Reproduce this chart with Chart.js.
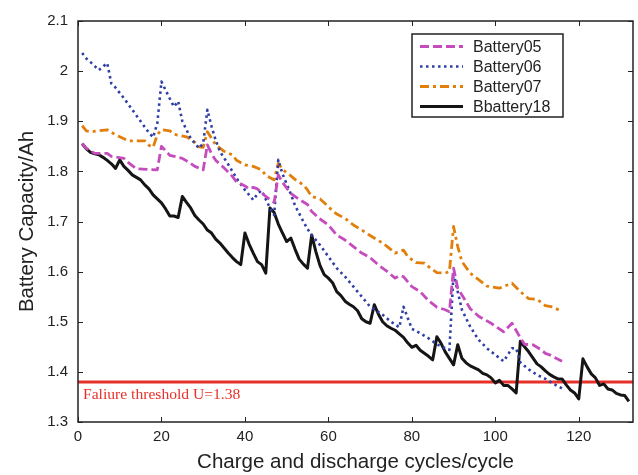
<!DOCTYPE html>
<html>
<head>
<meta charset="utf-8">
<script src="https://cdn.jsdelivr.net/npm/chart.js@4.4.1/dist/chart.umd.min.js"></script>
<style>
  body { margin: 0; background: #fff; }
</style>
</head>
<body>
<canvas id="capacityChart" width="638" height="475"></canvas>
<script>
// capacity (Ah) against cycle number, [cycle, capacity]
const battery05 = [
    [1,1.856],[2,1.846],[4,1.836],[7,1.836],[8,1.83],[11,1.826],[12,1.818],[14,1.805],[19,1.803],
    [20,1.85],[22,1.832],[25,1.826],[27,1.816],[28,1.81],[30,1.803],[31,1.853],[32,1.835],[33,1.822],
    [35,1.807],[37,1.79],[38,1.779],[40,1.771],[41,1.765],[42,1.768],[43,1.765],[45,1.75],[47,1.738],
    [48,1.793],[49,1.778],[51,1.756],[53,1.744],[55,1.734],[56,1.72],[58,1.705],[60,1.693],[62,1.673],
    [64,1.663],[66,1.65],[68,1.637],[70,1.628],[72,1.613],[74,1.601],[76,1.587],[77,1.592],[78,1.59],
    [80,1.57],[82,1.56],[84,1.542],[86,1.529],[88,1.524],[89,1.52],[90,1.607],[91,1.567],[93,1.54],
    [94,1.526],[96,1.511],[99,1.497],[102,1.48],[104,1.497],[106,1.468],[107,1.455],[109,1.454],
    [111,1.444],[112,1.437],[113,1.434],[116,1.421]
];
const battery06 = [
    [1,2.036],[2,2.025],[3,2.018],[4,2.01],[5,2.002],[6,2.009],[7,2.016],[8,1.975],[9,1.967],[11,1.946],
    [13,1.923],[15,1.9],[17,1.877],[18,1.868],[19,1.896],[20,1.979],[21,1.962],[22,1.945],[23,1.929],
    [24,1.94],[25,1.9],[27,1.866],[29,1.846],[30,1.856],[31,1.923],[32,1.89],[33,1.862],[34,1.84],
    [36,1.814],[38,1.786],[40,1.763],[42,1.743],[43,1.755],[44,1.762],[46,1.727],[47,1.713],[48,1.823],
    [49,1.795],[51,1.755],[52,1.732],[54,1.7],[55,1.685],[56,1.673],[58,1.653],[60,1.63],[62,1.607],
    [64,1.59],[66,1.57],[68,1.55],[70,1.53],[71,1.525],[73,1.514],[75,1.5],[77,1.489],[78,1.53],
    [79,1.508],[80,1.486],[82,1.477],[84,1.467],[86,1.455],[88,1.447],[89,1.444],[90,1.597],[91,1.56],
    [92,1.524],[94,1.49],[96,1.464],[98,1.447],[100,1.434],[102,1.421],[104,1.447],[105,1.447],
    [106,1.419],[108,1.405],[110,1.394],[112,1.386],[114,1.376],[116,1.367]
];
const battery07 = [
    [1,1.891],[2,1.881],[3,1.879],[5,1.881],[7,1.883],[9,1.873],[10,1.869],[12,1.861],[16,1.861],
    [17,1.852],[18,1.848],[19,1.873],[20,1.883],[22,1.881],[23,1.874],[26,1.869],[28,1.858],[29,1.849],
    [30,1.848],[31,1.879],[32,1.866],[33,1.853],[35,1.84],[37,1.833],[38,1.822],[40,1.813],[42,1.81],
    [44,1.803],[45,1.792],[47,1.783],[48,1.816],[49,1.804],[51,1.791],[52,1.784],[54,1.773],[55,1.763],
    [56,1.75],[58,1.745],[60,1.73],[61,1.721],[62,1.715],[64,1.706],[66,1.693],[68,1.683],[70,1.672],
    [72,1.662],[73,1.657],[75,1.644],[76,1.637],[78,1.643],[79,1.63],[81,1.618],[83,1.617],[84,1.61],
    [86,1.598],[88,1.597],[89,1.6],[90,1.69],[91,1.65],[92,1.62],[94,1.597],[96,1.584],[98,1.571],
    [101,1.567],[104,1.577],[106,1.56],[108,1.546],[110,1.545],[112,1.532],[114,1.529],[116,1.52]
];
const battery18 = [
    [1,1.855],[2,1.845],[3,1.838],[4,1.835],[5,1.833],[6,1.828],[7,1.822],[8,1.815],[9,1.806],[10,1.823],
    [11,1.81],[12,1.802],[13,1.793],[14,1.788],[15,1.783],[16,1.773],[17,1.765],[18,1.753],[19,1.745],
    [20,1.737],[21,1.725],[22,1.711],[23,1.711],[24,1.708],[25,1.75],[26,1.738],[27,1.727],[28,1.712],
    [29,1.703],[30,1.695],[31,1.683],[32,1.677],[33,1.665],[34,1.657],[35,1.647],[36,1.637],[37,1.628],
    [38,1.62],[39,1.614],[40,1.677],[41,1.655],[42,1.637],[43,1.62],[44,1.614],[45,1.597],[46,1.727],
    [47,1.718],[48,1.695],[49,1.677],[50,1.66],[51,1.667],[52,1.645],[53,1.625],[54,1.615],[55,1.607],
    [56,1.673],[57,1.64],[58,1.612],[59,1.594],[60,1.587],[61,1.578],[62,1.56],[63,1.552],[64,1.541],
    [65,1.535],[66,1.53],[67,1.522],[68,1.506],[69,1.5],[70,1.497],[71,1.534],[72,1.515],[73,1.5],
    [74,1.492],[75,1.487],[76,1.483],[77,1.476],[78,1.469],[79,1.458],[80,1.449],[81,1.453],[82,1.443],
    [83,1.437],[84,1.431],[85,1.424],[86,1.47],[87,1.457],[88,1.44],[89,1.427],[90,1.414],[91,1.454],
    [92,1.427],[93,1.418],[94,1.412],[95,1.408],[96,1.404],[97,1.397],[98,1.394],[99,1.388],[100,1.378],
    [101,1.383],[102,1.373],[103,1.373],[104,1.366],[105,1.358],[106,1.461],[107,1.45],[108,1.44],
    [109,1.428],[110,1.416],[111,1.41],[112,1.402],[113,1.395],[114,1.39],[115,1.386],[116,1.386],
    [117,1.374],[118,1.364],[119,1.358],[120,1.346],[121,1.426],[122,1.41],[123,1.396],[124,1.388],
    [125,1.373],[126,1.376],[127,1.366],[128,1.364],[129,1.357],[130,1.354],[131,1.353],[132,1.341]
];
const seriesNames = ['Battery05', 'Battery06', 'Battery07', 'Bbattery18'];
const threshold = 1.38;
const thresholdLabel = 'Faliure threshold U=1.38';

const toPoints = arr => arr.map(p => ({ x: p[0], y: p[1] }));
const sans = 'Liberation Sans, Arial, sans-serif';

// box around the plot with inward ticks
const frameTicks = {
    id: 'frameTicks',
    afterDraw(chart) {
        const { ctx, chartArea: a, scales: { x, y } } = chart;
        ctx.save();
        ctx.strokeStyle = '#222';
        ctx.lineWidth = 1.5;
        ctx.strokeRect(a.left, a.top, a.right - a.left, a.bottom - a.top);
        ctx.lineWidth = 1;
        ctx.beginPath();
        x.ticks.forEach(t => {
            const px = Math.round(x.getPixelForValue(t.value)) + 0.5;
            ctx.moveTo(px, a.bottom); ctx.lineTo(px, a.bottom - 5);
            ctx.moveTo(px, a.top); ctx.lineTo(px, a.top + 5);
        });
        y.ticks.forEach(t => {
            const py = Math.round(y.getPixelForValue(t.value)) + 0.5;
            ctx.moveTo(a.left, py); ctx.lineTo(a.left + 5, py);
            ctx.moveTo(a.right, py); ctx.lineTo(a.right - 5, py);
        });
        ctx.stroke();
        ctx.restore();
    }
};

// failure threshold line with its note
const thresholdLine = {
    id: 'thresholdLine',
    beforeDatasetsDraw(chart) {
        const { ctx, chartArea: a, scales: { y } } = chart;
        const py = y.getPixelForValue(threshold);
        ctx.save();
        ctx.strokeStyle = '#e8302a';
        ctx.lineWidth = 3;
        ctx.beginPath();
        ctx.moveTo(a.left, py);
        ctx.lineTo(a.right, py);
        ctx.stroke();
        ctx.fillStyle = '#e8302a';
        ctx.font = '15.6px "Liberation Serif", "Times New Roman", serif';
        ctx.textBaseline = 'middle';
        ctx.fillText(thresholdLabel, a.left + 5, py + 13);
        ctx.restore();
    }
};

// boxed legend in the upper right of the plot
const boxLegend = {
    id: 'boxLegend',
    afterDraw(chart) {
        const { ctx, chartArea: a } = chart;
        const left = a.left + 334, top = a.top + 13, w = 151, h = 83;
        ctx.save();
        ctx.fillStyle = '#fff';
        ctx.fillRect(left, top, w, h);
        ctx.strokeStyle = '#222';
        ctx.lineWidth = 1.5;
        ctx.strokeRect(left, top, w, h);
        ctx.font = '16px ' + sans;
        ctx.textBaseline = 'middle';
        chart.data.datasets.forEach((ds, i) => {
            const cy = top + 12.5 + i * 20;
            ctx.strokeStyle = ds.borderColor;
            ctx.lineWidth = ds.borderWidth;
            ctx.setLineDash(ds.borderDash || []);
            ctx.beginPath();
            ctx.moveTo(left + 8, cy);
            ctx.lineTo(left + 51, cy);
            ctx.stroke();
            ctx.setLineDash([]);
            ctx.fillStyle = '#222';
            ctx.fillText(ds.label, left + 61, cy + 1);
        });
        ctx.restore();
    }
};

const ctx = document.getElementById('capacityChart').getContext('2d');
const capacityChart = new Chart(ctx, {
    type: 'line',
    data: {
        datasets: [{
            label: seriesNames[0],
            data: toPoints(battery05),
            borderColor: '#c54cbd',
            borderWidth: 2.8,
            borderDash: [9, 4]
        }, {
            label: seriesNames[1],
            data: toPoints(battery06),
            borderColor: '#2f3fa6',
            borderWidth: 2.6,
            borderDash: [2.5, 3.5]
        }, {
            label: seriesNames[2],
            data: toPoints(battery07),
            borderColor: '#e27f0b',
            borderWidth: 2.8,
            borderDash: [9, 4, 3, 4]
        }, {
            label: seriesNames[3],
            data: toPoints(battery18),
            borderColor: '#151515',
            borderWidth: 3
        }]
    },
    options: {
        responsive: false,
        animation: false,
        devicePixelRatio: 1,
        layout: { padding: { top: 21, right: 5, left: 0, bottom: 0 } },
        elements: {
            point: { radius: 0 },
            line: { tension: 0, borderCapStyle: 'butt', borderJoinStyle: 'round' }
        },
        plugins: {
            legend: { display: false },
            tooltip: { enabled: false }
        },
        scales: {
            x: {
                type: 'linear',
                min: 0,
                max: 133,
                grid: { display: false, drawTicks: false },
                border: { display: false },
                ticks: {
                    stepSize: 20,
                    includeBounds: false,
                    padding: 6,
                    color: '#222',
                    font: { family: sans, size: 15 }
                },
                title: {
                    display: true,
                    text: 'Charge and discharge cycles/cycle',
                    color: '#222',
                    font: { family: sans, size: 20.5 },
                    padding: { top: 0, bottom: 0 }
                },
                afterFit(scale) { scale.height = 53; }
            },
            y: {
                min: 1.3,
                max: 2.1,
                grid: { display: false, drawTicks: false },
                border: { display: false },
                ticks: {
                    stepSize: 0.1,
                    padding: 10,
                    color: '#222',
                    font: { family: sans, size: 15 },
                    callback: v => String(Number(v.toFixed(1)))
                },
                title: {
                    display: true,
                    text: 'Battery Capacity/Ah',
                    color: '#222',
                    font: { family: sans, size: 20.5 },
                    padding: { top: 15.5, bottom: 0 }
                },
                afterFit(scale) { scale.width = 78; }
            }
        }
    },
    plugins: [thresholdLine, frameTicks, boxLegend]
});
</script>
</body>
</html>
